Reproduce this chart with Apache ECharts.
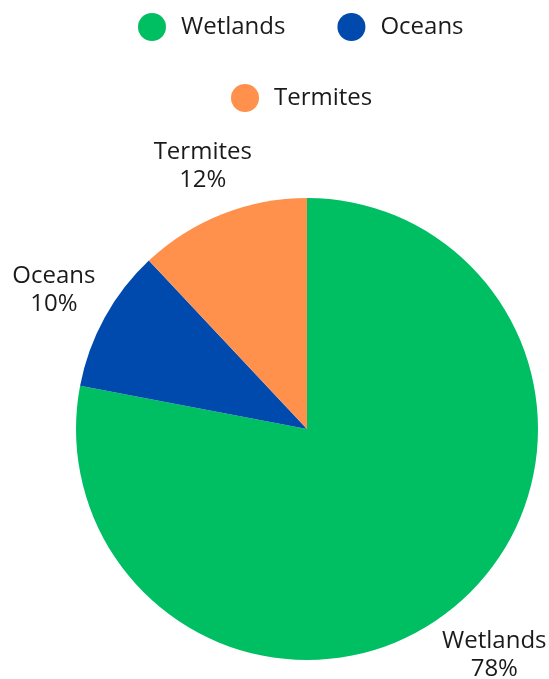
<!DOCTYPE html>
<html>
<head>
<meta charset="utf-8">
<script src="https://cdn.jsdelivr.net/npm/echarts@6/dist/echarts.min.js"></script>
<style>
  html, body { margin: 0; padding: 0; background: #ffffff; }
  #chart { width: 549px; height: 679px; }
</style>
</head>
<body>
<div id="chart"></div>
<script>
// Sources of natural methane emissions (share of total, %)
const categories = ['Wetlands', 'Oceans', 'Termites'];
const shares = [78, 10, 12];
const colors = ['#00BF63', '#004AAD', '#FF914D'];

const FONT = '"Open Sans", "Noto Sans", sans-serif';
const CENTER = [307, 429];
const RADIUS = 231;
const LABEL_GAP = 8;

const chart = echarts.init(document.getElementById('chart'), null, { renderer: 'canvas' });

const data = categories.map((name, i) => ({
  name: name,
  value: shares[i],
  itemStyle: { color: colors[i] }
}));

const legendText = {
  fontFamily: FONT,
  fontSize: 24,
  color: '#1a1a1a',
  padding: [0, 0, 0, 10]
};

const legendBase = {
  orient: 'horizontal',
  padding: 0,
  icon: 'circle',
  itemWidth: 28,
  itemHeight: 28,
  itemGap: 52,
  textStyle: legendText,
  selectedMode: false
};

chart.setOption({
  animation: false,
  legend: [
    Object.assign({ data: categories.slice(0, 2), top: 13, left: 138 }, legendBase),
    Object.assign({ data: categories.slice(2), top: 84, left: 231 }, legendBase)
  ],
  series: [{
    type: 'pie',
    center: CENTER,
    radius: RADIUS,
    startAngle: 90,
    clockwise: true,
    data: data,
    label: {
      show: true,
      position: 'outside',
      formatter: '{b}\n{d}%',
      fontFamily: FONT,
      fontSize: 24,
      lineHeight: 28,
      color: '#1a1a1a',
      align: 'center',
      overflow: 'none'
    },
    labelLine: { show: false, length: 10, length2: 0 },
    labelLayout: function (params) {
      // Place each label centred just outside the slice's mid-angle
      const p0 = params.labelLinePoints ? params.labelLinePoints[0] : null;
      if (!p0) return {};
      let dx = p0[0] - CENTER[0];
      let dy = p0[1] - CENTER[1];
      const len = Math.sqrt(dx * dx + dy * dy) || 1;
      dx /= len; dy /= len;
      const w = params.labelRect.width;
      const h = params.labelRect.height;
      const ext = LABEL_GAP + Math.abs(dx) * w / 2 + Math.abs(dy) * h / 2;
      return {
        x: CENTER[0] + dx * (RADIUS + ext),
        y: CENTER[1] + dy * (RADIUS + ext),
        align: 'center',
        verticalAlign: 'middle'
      };
    },
    emphasis: { disabled: true }
  }]
});
</script>
</body>
</html>
